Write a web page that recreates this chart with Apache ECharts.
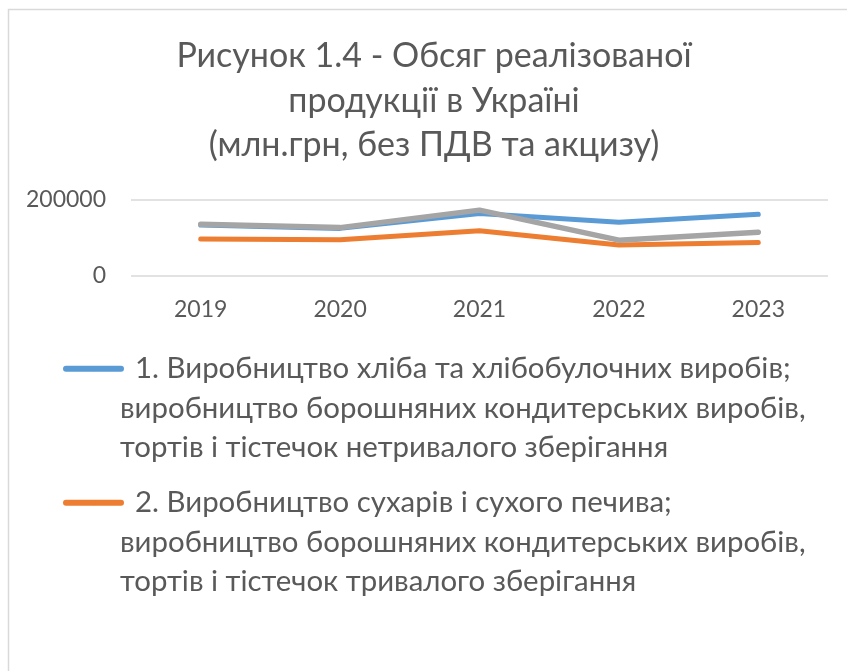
<!DOCTYPE html>
<html lang="uk">
<head>
<meta charset="UTF-8">
<title>Обсяг реалізованої продукції</title>
<script src="https://cdn.jsdelivr.net/npm/echarts@6/dist/echarts.min.js"></script>
<style>
  html, body { margin: 0; padding: 0; background: #fff; }
  #main { width: 847px; height: 671px; }
</style>
</head>
<body>
<div id="main"></div>
<script>
  // роки (вісь X)
  var years = ['2019', '2020', '2021', '2022', '2023'];
  // значення, млн.грн
  var bread = [133000, 124000, 163000, 140000, 161000];
  var biscuits = [96000, 94000, 118000, 80000, 87000];
  var third = [135000, 126000, 172000, 93000, 114000];

  var name1 = '  1. Виробництво хліба та хлібобулочних виробів;\nвиробництво борошняних кондитерських виробів,\nтортів і тістечок нетривалого зберігання';
  var name2 = '  2. Виробництво сухарів і сухого печива;\nвиробництво борошняних кондитерських виробів,\nтортів і тістечок тривалого зберігання';
  var name3 = '3';

  var textColor = '#595959';
  var font = 'Lato';

  var chart = echarts.init(document.getElementById('main'));

  // легенда: значок на рівні першого рядка тексту (два порожні рядки зверху)
  function legendItem(name, top) {
    return {
      data: [name],
      left: 63,
      top: top,
      padding: 0,
      orient: 'vertical',
      itemWidth: 55,
      itemHeight: 6,
      itemGap: 0,
      selectedMode: false,
      lineStyle: { width: 6, cap: 'round' },
      formatter: function (n) { return '\n\n' + n; },
      textStyle: {
        color: textColor, fontFamily: font, fontSize: 29.4, lineHeight: 39.5,
        padding: [0, 0, 0, -6]
      }
    };
  }

  chart.setOption({
    animation: false,
    title: {
      text: 'Рисунок 1.4 - Обсяг реалізованої\nпродукції в Україні\n(млн.грн, без ПДВ та акцизу)',
      left: 434,
      top: 34,
      padding: 0,
      textAlign: 'center',
      textStyle: { color: textColor, fontFamily: font, fontWeight: 'normal', fontSize: 34, lineHeight: 44.5 }
    },
    legend: [legendItem(name1, 270), legendItem(name2, 404)],
    grid: { left: 131, right: 19, top: 199.5, bottom: 395.5, containLabel: false },
    xAxis: {
      type: 'category',
      data: years,
      boundaryGap: true,
      axisLine: { show: false },
      axisTick: { show: false },
      axisLabel: { color: textColor, fontFamily: font, fontSize: 23, margin: 23 }
    },
    yAxis: {
      type: 'value',
      min: 0,
      max: 200000,
      interval: 200000,
      axisLine: { show: false },
      axisTick: { show: false },
      axisLabel: {
        color: textColor, fontFamily: font, fontSize: 23, margin: 25,
        formatter: function (v) { return String(v); }
      },
      splitLine: { lineStyle: { color: '#d9d9d9', width: 1.5 } }
    },
    series: [
      { name: name1, type: 'line', data: bread, symbol: 'none', color: '#5b9bd5',
        lineStyle: { width: 5, cap: 'round', join: 'round' } },
      { name: name2, type: 'line', data: biscuits, symbol: 'none', color: '#ed7d31',
        lineStyle: { width: 5, cap: 'round', join: 'round' } },
      { name: name3, type: 'line', data: third, symbol: 'none', color: '#a5a5a5',
        lineStyle: { width: 5.5, cap: 'round', join: 'round' } }
    ],
    graphic: [{
      type: 'rect',
      shape: { x: 8.5, y: 9.5, width: 900, height: 700 },
      style: { fill: 'none', stroke: '#d9d9d9', lineWidth: 1.5 },
      silent: true
    }]
  });
</script>
</body>
</html>
